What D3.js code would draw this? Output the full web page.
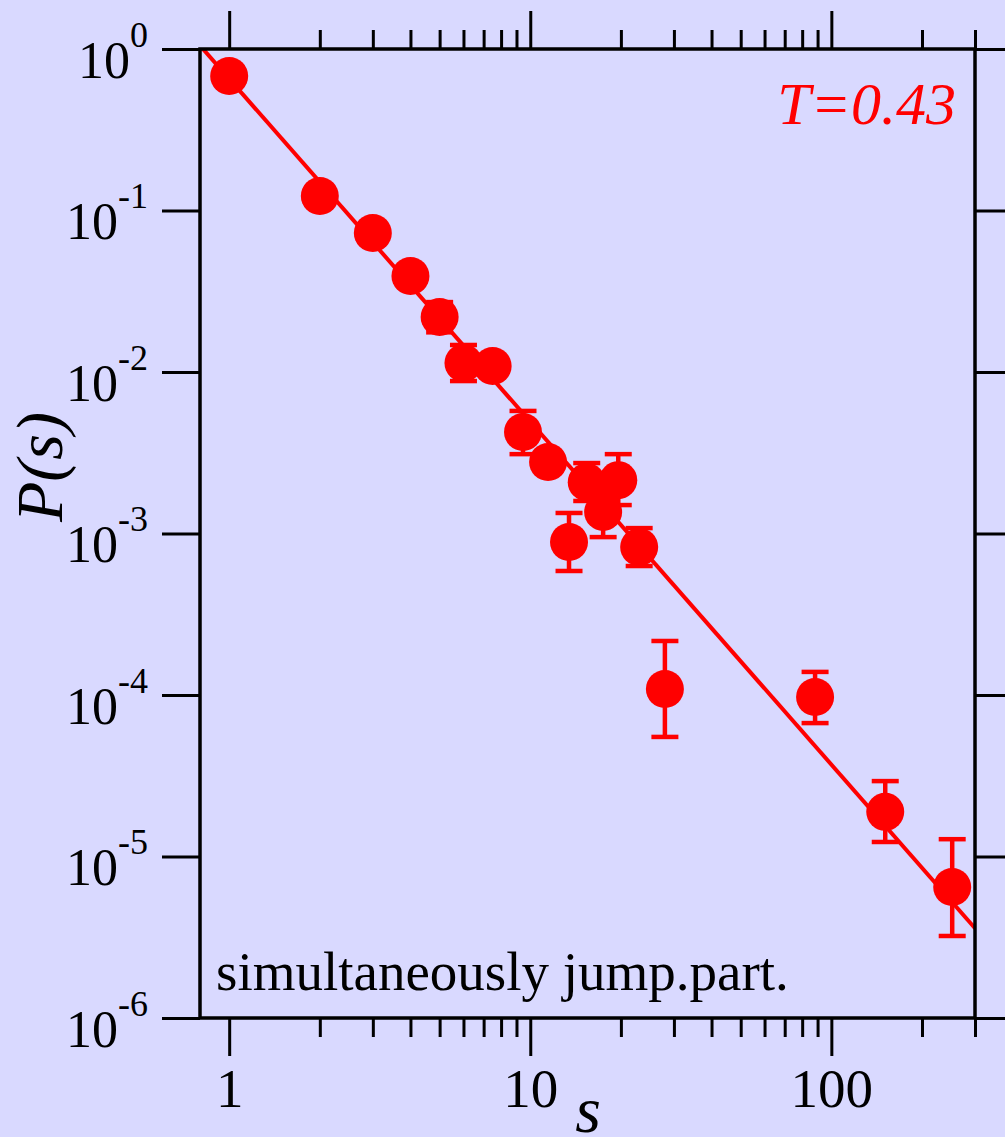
<!DOCTYPE html>
<html>
<head>
<meta charset="utf-8">
<script src="https://cdnjs.cloudflare.com/ajax/libs/d3/7.8.5/d3.min.js"></script>
<style>
  body { margin: 0; background: #d9d9ff; }
  svg { display: block; font-family: "Liberation Serif", "Times New Roman", serif; }
</style>
</head>
<body>
<svg id="chart" width="1005" height="1137"></svg>
<script>
// cluster size s and probability P(s)
const sizes = [1, 2, 3, 4, 5, 6, 7.5, 9.46, 11.46, 13.45, 15.4, 17.46, 19.6, 23, 28, 88.3, 151, 252];
const probs = [0.68, 0.123, 0.0726, 0.0393, 0.0219, 0.01137, 0.01089, 0.00425, 0.00277, 0.000886,
  0.00208, 0.00136, 0.00214, 0.000825, 0.000109, 0.0000972, 0.0000189, 0.00000647];
// error bar ends (null = bar hidden behind the marker)
const errHigh = [null, null, null, null, 0.0271, 0.0147, null, 0.00574, null, 0.00134,
  0.00273, 0.00194, 0.0031, 0.00108, 0.000216, 0.000139, 0.0000293, 0.0000128];
const errLow = [null, null, null, null, 0.0176, 0.00879, null, 0.0031, null, 0.000586,
  0.00159, 0.00095, 0.0015, 0.000629, 0.000055, 0.000067, 0.0000123, 0.00000322];

// power-law fit line end points
const fitS = [0.8, 300];
const fitP = [1.05, 0.0000036];

const xMajor = [1, 10, 100];
const xMinor = [2, 3, 4, 5, 6, 7, 8, 9, 20, 30, 40, 50, 60, 70, 80, 90, 200, 300];
const yMajor = [1, 1e-1, 1e-2, 1e-3, 1e-4, 1e-5, 1e-6];

function createChart() {
  const svg = d3.select("#chart");

  const margin = { top: 49, right: 30, bottom: 119, left: 200 };
  const width = +svg.attr("width") - margin.left - margin.right;
  const height = +svg.attr("height") - margin.top - margin.bottom;

  svg.append("rect")
    .attr("width", +svg.attr("width"))
    .attr("height", +svg.attr("height"))
    .attr("fill", "#d9d9ff");

  const g = svg.append("g").attr("transform", `translate(${margin.left},${margin.top})`);

  // Scales
  const xScale = d3.scaleLog().domain([0.8, 300]).range([0, width]);
  const yScale = d3.scaleLog().domain([1e-6, 1]).range([height, 0]);

  g.append("clipPath").attr("id", "clip")
    .append("rect").attr("width", width).attr("height", height);

  // Fit line
  const fit = fitS.map((s, i) => ({ s: s, p: fitP[i] }));
  g.append("path")
    .datum(fit)
    .attr("clip-path", "url(#clip)")
    .attr("fill", "none")
    .attr("stroke", "#ff0000")
    .attr("stroke-width", 4)
    .attr("d", d3.line().x((d) => xScale(d.s)).y((d) => yScale(d.p)));

  // Data points with error bars
  const data = sizes.map((s, i) => ({ s: s, p: probs[i], lo: errLow[i], hi: errHigh[i] }));
  const withErr = data.filter((d) => d.hi !== null);

  const bars = g.append("g").attr("stroke", "#ff0000").attr("stroke-width", 4.5);
  bars.selectAll(".stem").data(withErr).enter().append("line")
    .attr("x1", (d) => xScale(d.s)).attr("x2", (d) => xScale(d.s))
    .attr("y1", (d) => yScale(d.hi)).attr("y2", (d) => yScale(d.lo));
  bars.selectAll(".cap-hi").data(withErr).enter().append("line")
    .attr("x1", (d) => xScale(d.s) - 13.5).attr("x2", (d) => xScale(d.s) + 13.5)
    .attr("y1", (d) => yScale(d.hi)).attr("y2", (d) => yScale(d.hi));
  bars.selectAll(".cap-lo").data(withErr).enter().append("line")
    .attr("x1", (d) => xScale(d.s) - 13.5).attr("x2", (d) => xScale(d.s) + 13.5)
    .attr("y1", (d) => yScale(d.lo)).attr("y2", (d) => yScale(d.lo));

  g.selectAll(".dot").data(data).enter().append("circle")
    .attr("cx", (d) => xScale(d.s))
    .attr("cy", (d) => yScale(d.p))
    .attr("r", 19)
    .attr("fill", "#ff0000");

  // Axes
  const styleAxis = (sel) => {
    sel.select(".domain").remove();
    sel.selectAll(".tick line").attr("stroke", "#000").attr("stroke-width", 3);
  };

  const bottom = g.append("g").attr("transform", `translate(0,${height})`)
    .call(d3.axisBottom(xScale).tickValues(xMajor).tickSize(38).tickFormat(d3.format("d")))
    .call(styleAxis);
  bottom.selectAll(".tick text")
    .attr("y", 89).attr("dy", 0)
    .attr("font-size", 55).attr("font-family", "Liberation Serif").attr("fill", "#000");

  g.append("g").attr("transform", `translate(0,${height})`)
    .call(d3.axisBottom(xScale).tickValues(xMinor).tickSize(19).tickFormat(""))
    .call(styleAxis);
  g.append("g")
    .call(d3.axisTop(xScale).tickValues(xMajor).tickSize(38).tickFormat(""))
    .call(styleAxis);
  g.append("g")
    .call(d3.axisTop(xScale).tickValues(xMinor).tickSize(19).tickFormat(""))
    .call(styleAxis);

  const left = g.append("g")
    .call(d3.axisLeft(yScale).tickValues(yMajor).tickSize(38).tickPadding(14).tickFormat(() => "10"))
    .call(styleAxis);
  left.selectAll(".tick text")
    .attr("dy", 28)
    .attr("font-size", 52).attr("font-family", "Liberation Serif").attr("fill", "#000")
    .append("tspan")
    .attr("dy", -31)
    .attr("font-size", 36)
    .text((d) => Math.round(Math.log10(d)));

  g.append("g").attr("transform", `translate(${width},0)`)
    .call(d3.axisRight(yScale).tickValues(yMajor).tickSize(38).tickFormat(""))
    .call(styleAxis);

  // Frame
  g.append("rect")
    .attr("width", width).attr("height", height)
    .attr("fill", "none").attr("stroke", "#000").attr("stroke-width", 3.5);

  // Labels
  svg.append("text")
    .attr("x", 588).attr("y", 1132)
    .attr("text-anchor", "middle")
    .attr("font-size", 66).attr("font-style", "italic")
    .text("s");

  svg.append("text")
    .attr("transform", "translate(62,467) rotate(-90)")
    .attr("text-anchor", "middle")
    .attr("font-size", 66).attr("font-style", "italic")
    .text("P(s)");

  svg.append("text")
    .attr("x", 956).attr("y", 124)
    .attr("text-anchor", "end")
    .attr("font-size", 60).attr("font-style", "italic")
    .attr("fill", "#ff0000")
    .text("T=0.43");

  svg.append("text")
    .attr("x", 216).attr("y", 990)
    .attr("font-size", 55)
    .text("simultaneously jump.part.");
}

createChart();
</script>
</body>
</html>
